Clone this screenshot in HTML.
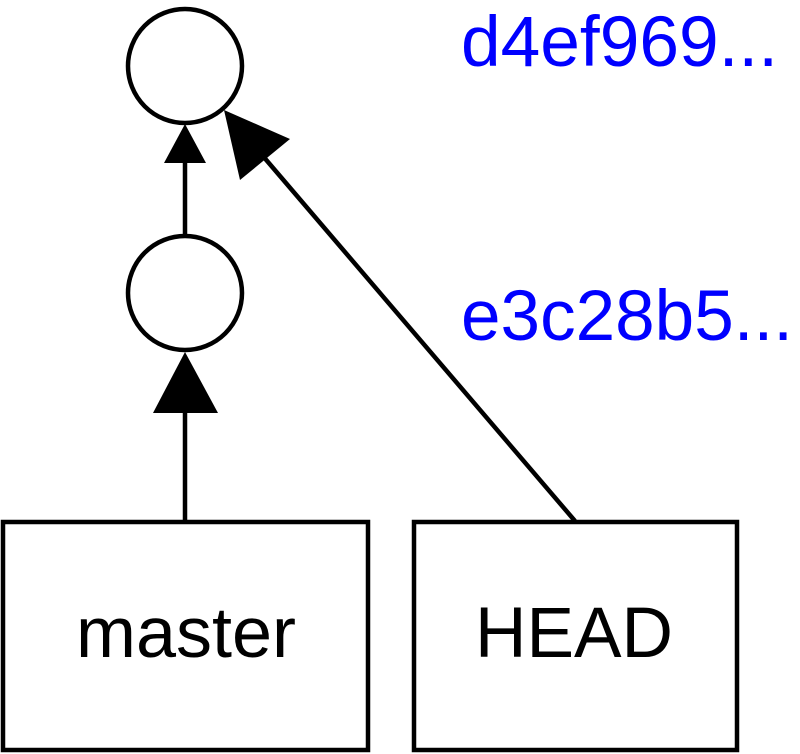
<!DOCTYPE html>
<html><head><meta charset="utf-8"><style>html,body{margin:0;padding:0;background:#fff;}svg{display:block}</style></head>
<body>
<svg width="800" height="754" viewBox="0 0 800 754" xmlns="http://www.w3.org/2000/svg">
<rect width="800" height="754" fill="#fff"/>
<g fill="#fff" stroke="#000" stroke-width="4.5">
<circle cx="185" cy="66" r="57"/>
<circle cx="185" cy="293" r="57"/>
<rect x="3" y="522" width="365" height="228"/>
<rect x="414" y="522" width="323" height="228"/>
</g>
<g stroke="#000" stroke-width="4.5" fill="none">
<line x1="185" y1="236" x2="185" y2="160"/>
<line x1="185" y1="520" x2="185" y2="410"/>
<line x1="575" y1="521" x2="262" y2="155"/>
</g>
<g fill="#000">
<polygon points="185,124 164,163 206,163"/>
<polygon points="185,352 153,413 218,413"/>
<polygon points="224,110 240,180 290,139"/>
</g>
<g font-family="Liberation Sans, Arial, sans-serif" font-size="71">
<text x="76" y="657" textLength="220" lengthAdjust="spacingAndGlyphs">master</text>
<text x="475" y="657" textLength="198" lengthAdjust="spacingAndGlyphs">HEAD</text>
<text x="461" y="66" fill="#0000ff" textLength="317" lengthAdjust="spacingAndGlyphs">d4ef969...</text>
<text x="461" y="340" fill="#0000ff" textLength="332" lengthAdjust="spacingAndGlyphs">e3c28b5...</text>
</g>
</svg>
</body></html>
